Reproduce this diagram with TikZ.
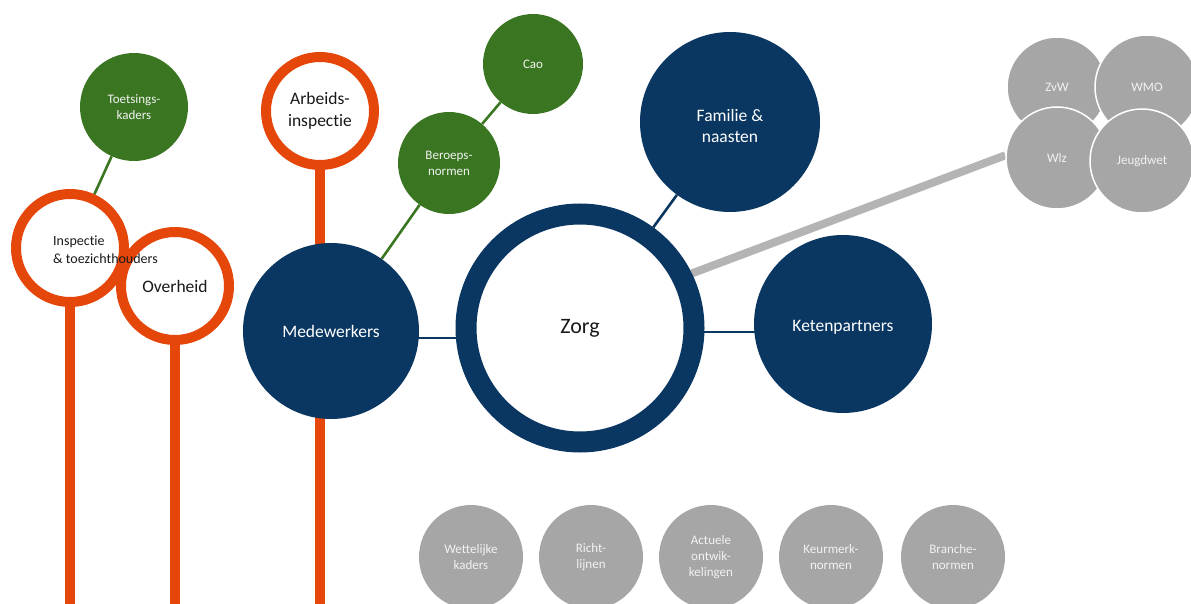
\documentclass[tikz,border=0pt]{standalone}
\usepackage{fontspec}
\setmainfont{Carlito}[Ligatures=NoCommon]
\usetikzlibrary{backgrounds}
\definecolor{orng}{HTML}{E5470B}
\definecolor{grn}{HTML}{3A7621}
\definecolor{navy}{HTML}{0A3761}
\definecolor{gry}{HTML}{A6A6A6}
\definecolor{gryline}{HTML}{B4B4B4}
\definecolor{lighttxt}{HTML}{F2F2F2}
\tikzset{
  smallfont/.style={font=\fontsize{13}{16}\selectfont},
  bigfont/.style={font=\fontsize{17.5}{21.5}\selectfont},
  greenball/.style={circle, fill=grn, inner sep=0pt, align=center, text=lighttxt, smallfont},
  navyball/.style={circle, fill=navy, inner sep=0pt, align=center, text=white, bigfont},
  grayball/.style={circle, fill=gry, inner sep=0pt, align=center, text=lighttxt, smallfont},
  grayballw/.style={grayball, draw=white, line width=1.5pt},
  orangering/.style={circle, draw=orng, line width=10pt, fill=white, inner sep=0pt, align=center, text=black!90, minimum size=108pt},
  navyring/.style={circle, draw=navy, line width=21pt, fill=white, inner sep=0pt, minimum size=228pt},
  greenlink/.style={draw=grn, line width=2.6pt},
  navylink/.style={draw=navy, line width=2.6pt},
  orangebar/.style={draw=orng, line width=10pt},
  graybar/.style={draw=gryline, line width=8pt}
}
\begin{document}
\begin{tikzpicture}[x=1pt,y=-1pt]
\useasboundingbox (0,0) rectangle (1191,604);
\coordinate (bot) at (0,606);

% green nodes
\node[greenball, minimum size=108pt] (toets) at (134,107) {Toetsings-\\kaders};
\node[greenball, minimum size=102pt] (beroeps) at (449,163) {Beroeps-\\normen};
\node[greenball, minimum size=100pt] (cao) at (533,64) {Cao};

% orange rings
\node[orangering] (insp) at (70,248) {};
\node[orangering, bigfont] (overh) at (175,286) {Overheid};
\node[font=\fontsize{14}{18}\selectfont, align=left, anchor=west, inner sep=0pt, text=black!90] (insptxt) at (53,250) {Inspectie\\\& toezichthouders};
\node[orangering, bigfont] (arb) at (320,111) {Arbeids-\\inspectie};

% navy nodes
\node[navyball, minimum size=176pt] (med) at (331,331) {Medewerkers};
\node[navyring, font=\fontsize{22}{26}\selectfont, text=black!90] (zorg) at (580,328) {Zorg};
\node[navyball, minimum size=180pt] (fam) at (730,122) {\rule{0pt}{20pt}Familie \&\\naasten};
\node[navyball, minimum size=178pt] (keten) at (843,324) {\rule{0pt}{17pt}Ketenpartners};

% gray law nodes
\node[grayballw, minimum size=100pt] (zvw) at (1057,87) {ZvW};
\node[grayballw, minimum size=104pt] (wmo) at (1147,87) {WMO};
\node[grayballw, minimum size=102pt] (wlz) at (1057,158) {Wlz};
\node[grayballw, minimum size=104pt] (jeugd) at (1142,161) {Jeugdwet};

% bottom gray nodes
\node[grayball, minimum size=104pt] (wet) at (471,557) {Wettelijke\\kaders};
\node[grayball, minimum size=104pt] (richt) at (591,557) {Richt-\\lijnen};
\node[grayball, minimum size=104pt] (actu) at (711,557) {Actuele\\ontwik-\\kelingen};
\node[grayball, minimum size=104pt] (keur) at (831,557) {Keurmerk-\\normen};
\node[grayball, minimum size=104pt] (branche) at (953,557) {Branche-\\normen};

\begin{scope}[on background layer]
  \draw[greenlink] (toets) -- (insp);
  \draw[greenlink] (med) -- (beroeps);
  \draw[greenlink] (beroeps) -- (cao);
  \draw[orangebar] (insp.center) -- (insp.center |- bot);
  \draw[orangebar] (overh.center) -- (overh.center |- bot);
  \draw[orangebar] (arb.center) -- (arb.center |- bot);
  \draw[navylink] ([yshift=-7pt]med.center) -- ([yshift=-10pt]zorg.center);
  \draw[navylink] ([yshift=-4pt]zorg.center) -- ([yshift=-8pt]keten.center);
  \draw[navylink] (zorg) -- (fam);
  \draw[graybar] (zorg.26) -- (wlz.177);
\end{scope}
\end{tikzpicture}
\end{document}
